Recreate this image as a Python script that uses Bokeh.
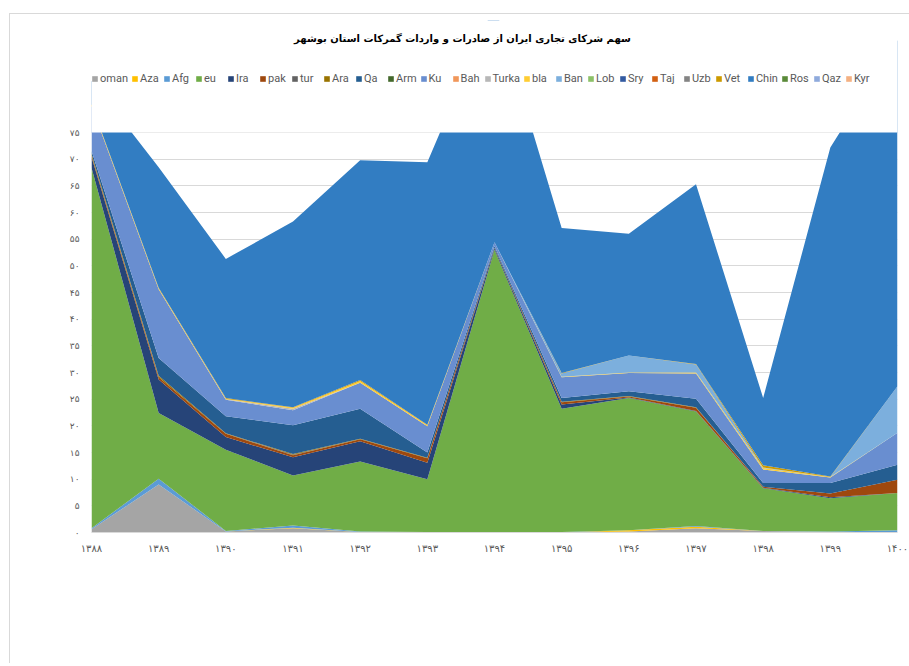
from bokeh.plotting import figure
from bokeh.models import ColumnDataSource, Legend, LegendItem, FixedTicker, Range1d, Label
from bokeh.embed import file_html
from bokeh.resources import INLINE

title_text = "سهم شرکای تجاری ایران از صادرات و واردات گمرکات استان بوشهر"

years = ["۱۳۸۸", "۱۳۸۹", "۱۳۹۰", "۱۳۹۱", "۱۳۹۲", "۱۳۹۳", "۱۳۹۴",
         "۱۳۹۵", "۱۳۹۶", "۱۳۹۷", "۱۳۹۸", "۱۳۹۹", "۱۴۰۰"]
y_ticks = [0, 5, 10, 15, 20, 25, 30, 35, 40, 45, 50, 55, 60, 65, 70, 75]
y_tick_labels = ["۰", "۵", "۱۰", "۱۵", "۲۰", "۲۵", "۳۰", "۳۵", "۴۰", "۴۵",
                 "۵۰", "۵۵", "۶۰", "۶۵", "۷۰", "۷۵"]

oman  = [0.6, 9.0, 0.2, 0.8, 0.1, 0.1, 0.0, 0.0, 0.2, 0.8, 0.3, 0.1, 0.0]
Aza   = [0.0, 0.0, 0.0, 0.1, 0.0, 0.0, 0.0, 0.0, 0.2, 0.3, 0.0, 0.0, 0.0]
Afg   = [0.2, 1.1, 0.1, 0.4, 0.1, 0.0, 0.0, 0.1, 0.0, 0.1, 0.0, 0.1, 0.4]
eu    = [67.6, 12.3, 15.2, 9.4, 13.1, 9.9, 53.0, 23.1, 24.8, 21.5, 8.0, 6.2, 7.0]
Ira   = [2.0, 6.3, 2.4, 3.4, 3.8, 3.1, 0.3, 0.8, 0.1, 0.1, 0.1, 0.2, 0.0]
pak   = [0.3, 0.4, 0.6, 0.4, 0.4, 0.8, 0.1, 0.4, 0.2, 0.6, 0.2, 0.7, 2.5]
tur   = [0.0, 0.0, 0.0, 0.1, 0.0, 0.0, 0.0, 0.0, 0.0, 0.0, 0.0, 0.0, 0.0]
Ara   = [0.3, 0.3, 0.1, 0.1, 0.1, 0.1, 0.0, 0.1, 0.1, 0.1, 0.0, 0.0, 0.0]
Qa    = [0.6, 3.3, 3.2, 5.4, 5.6, 1.0, 0.3, 0.7, 0.9, 1.6, 0.7, 2.0, 2.8]
Arm   = [0.0] * 13
Ku    = [8.4, 12.9, 3.1, 2.8, 4.9, 4.9, 0.7, 3.9, 3.4, 4.7, 2.5, 1.0, 6.0]
Bah   = [0.0] * 13
Turka = [0.0, 0.0, 0.1, 0.3, 0.0, 0.0, 0.0, 0.0, 0.0, 0.0, 0.0, 0.0, 0.0]
bla   = [0.2, 0.2, 0.1, 0.2, 0.3, 0.2, 0.0, 0.1, 0.1, 0.2, 0.3, 0.1, 0.0]
Ban   = [0.0, 0.0, 0.0, 0.0, 0.0, 0.0, 0.0, 0.6, 3.2, 1.5, 0.1, 0.0, 8.7]
Lob   = [0.0] * 13
Sry   = [0.0] * 13
Taj   = [0.0] * 13
Uzb   = [0.0] * 13
Vet   = [0.1, 0.1, 0.1, 0.1, 0.2, 0.1, 0.0, 0.1, 0.0, 0.1, 0.4, 0.1, 0.0]
Chin  = [4.4, 22.6, 26.1, 34.8, 41.2, 49.2, 44.6, 27.2, 22.8, 33.7, 12.6, 61.7, 64.9]
Ros   = [0.0] * 13
Qaz   = [0.0] * 13
Kyr   = [0.0] * 13

series_names = ["oman", "Aza", "Afg", "eu", "Ira", "pak", "tur", "Ara", "Qa", "Arm",
                "Ku", "Bah", "Turka", "bla", "Ban", "Lob", "Sry", "Taj", "Uzb", "Vet",
                "Chin", "Ros", "Qaz", "Kyr"]
series_values = [oman, Aza, Afg, eu, Ira, pak, tur, Ara, Qa, Arm, Ku, Bah, Turka, bla,
                 Ban, Lob, Sry, Taj, Uzb, Vet, Chin, Ros, Qaz, Kyr]
colors = ["#A5A5A5", "#FFC000", "#5B9BD5", "#70AD47", "#264478", "#9E480E", "#636363",
          "#997300", "#255E91", "#43682B", "#698ED0", "#F1975A", "#B7B7B7", "#FFCD33",
          "#7CAFDD", "#8CC168", "#335AA1", "#D26012", "#848484", "#CC9A00", "#327DC2",
          "#5A8A39", "#8FAADC", "#F4B183"]

data = {"x": list(range(len(years)))}
for n, v in zip(series_names, series_values):
    data[n] = v
source = ColumnDataSource(data)

y_axis_max = y_ticks[-1]          # the value axis of the chart ends at 75
y_view_top = 96                   # extra room above it holds the title and legend

p = figure(width=900, height=650, output_backend="svg", toolbar_location=None,
           x_range=Range1d(0, len(years) - 1), y_range=Range1d(0, y_view_top),
           min_border_left=81, min_border_right=13, min_border_top=6,
           min_border_bottom=132)
p.margin = (13, 0, 0, 9)
p.styles = {"border-top": "1px solid #d9d9d9", "border-left": "1px solid #d9d9d9"}
p.outline_line_color = None
p.background_fill_color = "white"

renderers = p.varea_stack(stackers=series_names, x="x", color=colors, source=source)

# the value axis stops at 75: everything above it is blank, as in the original
p.quad(left=0, right=len(years) - 1, bottom=y_axis_max, top=y_view_top + y_axis_max,
       fill_color="white", line_color=None)

# axes
p.xaxis.ticker = FixedTicker(ticks=list(range(len(years))))
p.xaxis.major_label_overrides = {i: y for i, y in enumerate(years)}
p.yaxis.ticker = FixedTicker(ticks=y_ticks)
p.yaxis.major_label_overrides = {t: l for t, l in zip(y_ticks, y_tick_labels)}
for ax in (p.xaxis, p.yaxis):
    ax.major_tick_line_color = None
    ax.minor_tick_line_color = None
    ax.major_label_text_color = "#595959"
    ax.major_label_text_font = "DejaVu Sans"
p.xaxis.major_label_text_font_size = "10px"
p.yaxis.major_label_text_font_size = "9px"
p.xaxis.axis_line_color = "#d9d9d9"
p.yaxis.axis_line_color = None
p.xaxis.major_label_standoff = 4
p.yaxis.major_label_standoff = 6

p.xgrid.grid_line_color = None
p.ygrid.ticker = FixedTicker(ticks=y_ticks)
p.ygrid.grid_line_color = "#d9d9d9"
p.ygrid.grid_line_width = 1
p.ygrid.level = "underlay"

items = [LegendItem(label=n, renderers=[r]) for n, r in zip(series_names, renderers)]
legend = Legend(items=items, orientation="horizontal", location=(0, 447),
                glyph_width=7, glyph_height=7, label_standoff=2, spacing=3,
                padding=0, margin=0, border_line_color=None, background_fill_alpha=0,
                label_text_font_size="11px", label_text_color="#595959",
                label_text_font="Roboto", label_height=12)
p.add_layout(legend, "center")

title = Label(x=(len(years) - 1) / 2, y=y_view_top, x_offset=-32, y_offset=-18,
              text=title_text, text_align="center", text_baseline="middle",
              text_font="DejaVu Sans", text_font_size="10px",
              text_font_style="bold", text_color="#000000")
p.add_layout(title)

open("out.html", "w").write(file_html(p, INLINE))
